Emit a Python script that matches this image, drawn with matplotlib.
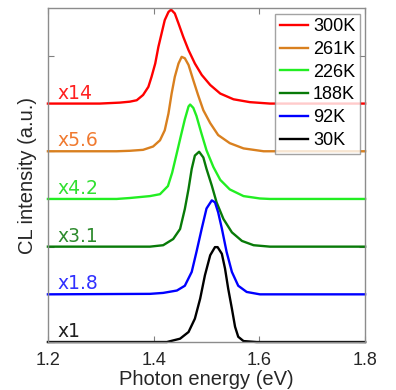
import numpy as np
import matplotlib
matplotlib.use('Agg')
import matplotlib.pyplot as plt

plt.rcParams['font.family'] = ['Liberation Sans', 'DejaVu Sans']

# spectra: photon energy (eV), normalised CL intensity
e_300 = [1.2, 1.298, 1.336, 1.355, 1.368, 1.380, 1.390, 1.396, 1.403, 1.409, 1.415,
         1.421, 1.428, 1.433, 1.440, 1.447, 1.456, 1.466, 1.478, 1.491, 1.507,
         1.526, 1.551, 1.582, 1.620, 1.8]
i_300 = [0.0, 0.0, 0.02, 0.04, 0.07, 0.18, 0.35, 0.56, 0.84, 1.19, 1.47,
         1.75, 1.92, 1.97, 1.89, 1.68, 1.40, 1.12, 0.84, 0.60, 0.39,
         0.21, 0.09, 0.03, 0.0, 0.0]

e_261 = [1.2, 1.330, 1.355, 1.380, 1.399, 1.412, 1.421, 1.428, 1.434, 1.440, 1.447,
         1.453, 1.459, 1.466, 1.475, 1.484, 1.494, 1.507, 1.522, 1.544, 1.570,
         1.608, 1.8]
i_261 = [0.0, 0.0, 0.01, 0.03, 0.10, 0.23, 0.44, 0.79, 1.21, 1.56, 1.84,
         1.98, 1.95, 1.81, 1.49, 1.18, 0.86, 0.59, 0.34, 0.17, 0.06,
         0.0, 0.0]

e_226 = [1.2, 1.330, 1.355, 1.393, 1.412, 1.427, 1.435, 1.444, 1.451, 1.459, 1.466,
         1.469, 1.475, 1.481, 1.490, 1.500, 1.513, 1.526, 1.544, 1.557, 1.570,
         1.601, 1.620, 1.8]
i_226 = [0.0, 0.0, 0.02, 0.06, 0.10, 0.27, 0.55, 0.97, 1.30, 1.67, 1.94,
         1.98, 1.91, 1.74, 1.39, 1.02, 0.67, 0.40, 0.20, 0.13, 0.06,
         0.01, 0.0, 0.0]

e_188 = [1.2, 1.355, 1.393, 1.418, 1.437, 1.450, 1.459, 1.466, 1.472, 1.478, 1.486,
         1.494, 1.500, 1.510, 1.519, 1.532, 1.548, 1.567, 1.589, 1.620, 1.8]
i_188 = [0.0, 0.0, 0.0, 0.03, 0.16, 0.37, 0.79, 1.21, 1.63, 1.91, 1.99,
         1.87, 1.63, 1.28, 0.93, 0.58, 0.30, 0.12, 0.03, 0.0, 0.0]

e_92 = [1.2, 1.393, 1.418, 1.444, 1.459, 1.472, 1.481, 1.491, 1.500, 1.510, 1.516,
        1.522, 1.529, 1.538, 1.548, 1.560, 1.576, 1.601, 1.8]
i_92 = [0.0, 0.01, 0.03, 0.08, 0.18, 0.47, 0.89, 1.38, 1.80, 1.97, 1.93,
        1.72, 1.38, 0.89, 0.47, 0.18, 0.05, 0.0, 0.0]

e_30 = [1.2, 1.393, 1.425, 1.450, 1.466, 1.478, 1.488, 1.497, 1.507, 1.516, 1.521,
        1.529, 1.535, 1.541, 1.548, 1.554, 1.560, 1.570, 1.595, 1.8]
i_30 = [0.0, 0.0, 0.0, 0.07, 0.21, 0.49, 0.91, 1.40, 1.82, 1.99, 1.99,
        1.85, 1.54, 1.12, 0.70, 0.32, 0.11, 0.02, 0.0, 0.0]

temps = ['300K', '261K', '226K', '188K', '92K', '30K']
factors = ['x14', 'x5.6', 'x4.2', 'x3.1', 'x1.8', 'x1']
offsets = [5, 4, 3, 2, 1, 0]
energies = [e_300, e_261, e_226, e_188, e_92, e_30]
intens = [i_300, i_261, i_226, i_188, i_92, i_30]

line_cols = ['#ff0000', '#d9801f', '#22ee22', '#087a08', '#0000ff', '#000000']
text_cols = ['#ff2020', '#f07a30', '#30e030', '#2e8b2e', '#3030ff', '#202020']

fig = plt.figure(figsize=(3.96, 3.90), dpi=100)
ax = fig.add_axes([0.121, 0.123, 0.801, 0.856])

for e, i, off, c, lab in zip(energies, intens, offsets, line_cols, temps):
    ax.plot(e, np.array(i) + off, color=c, lw=1.7, label=lab,
            solid_joinstyle='round', clip_on=False)

for f, off, c in zip(factors, offsets, text_cols):
    ax.text(1.218, off + 0.22, f, color=c, fontsize=13.5, va='center', ha='left',
            family=['DejaVu Sans'])

ax.set_xlim(1.2, 1.8)
ax.set_ylim(0, 7)
ax.set_xticks([1.2, 1.4, 1.6, 1.8])
ax.set_yticks([0, 2, 4, 6])
ax.set_yticklabels([])
ax.tick_params(direction='in', top=True, right=True, length=4, labelsize=13,
               colors='#808080', labelcolor='#262626', pad=7)
for s in ax.spines.values():
    s.set_color('#8c8c8c')
    s.set_linewidth(1.0)
ax.set_xlabel('Photon energy (eV)', fontsize=14.5, color='#262626', labelpad=1)
ax.set_ylabel('CL intensity (a.u.)', fontsize=14.5, color='#262626', labelpad=1)

leg = ax.legend(loc='upper right', fontsize=13, frameon=True, fancybox=False,
                edgecolor='#8c8c8c', handlelength=1.6, handletextpad=0.25,
                labelspacing=0.32, borderpad=0.25, borderaxespad=0.3)
leg.get_frame().set_linewidth(1.0)

fig.savefig('out.png', dpi=100)
